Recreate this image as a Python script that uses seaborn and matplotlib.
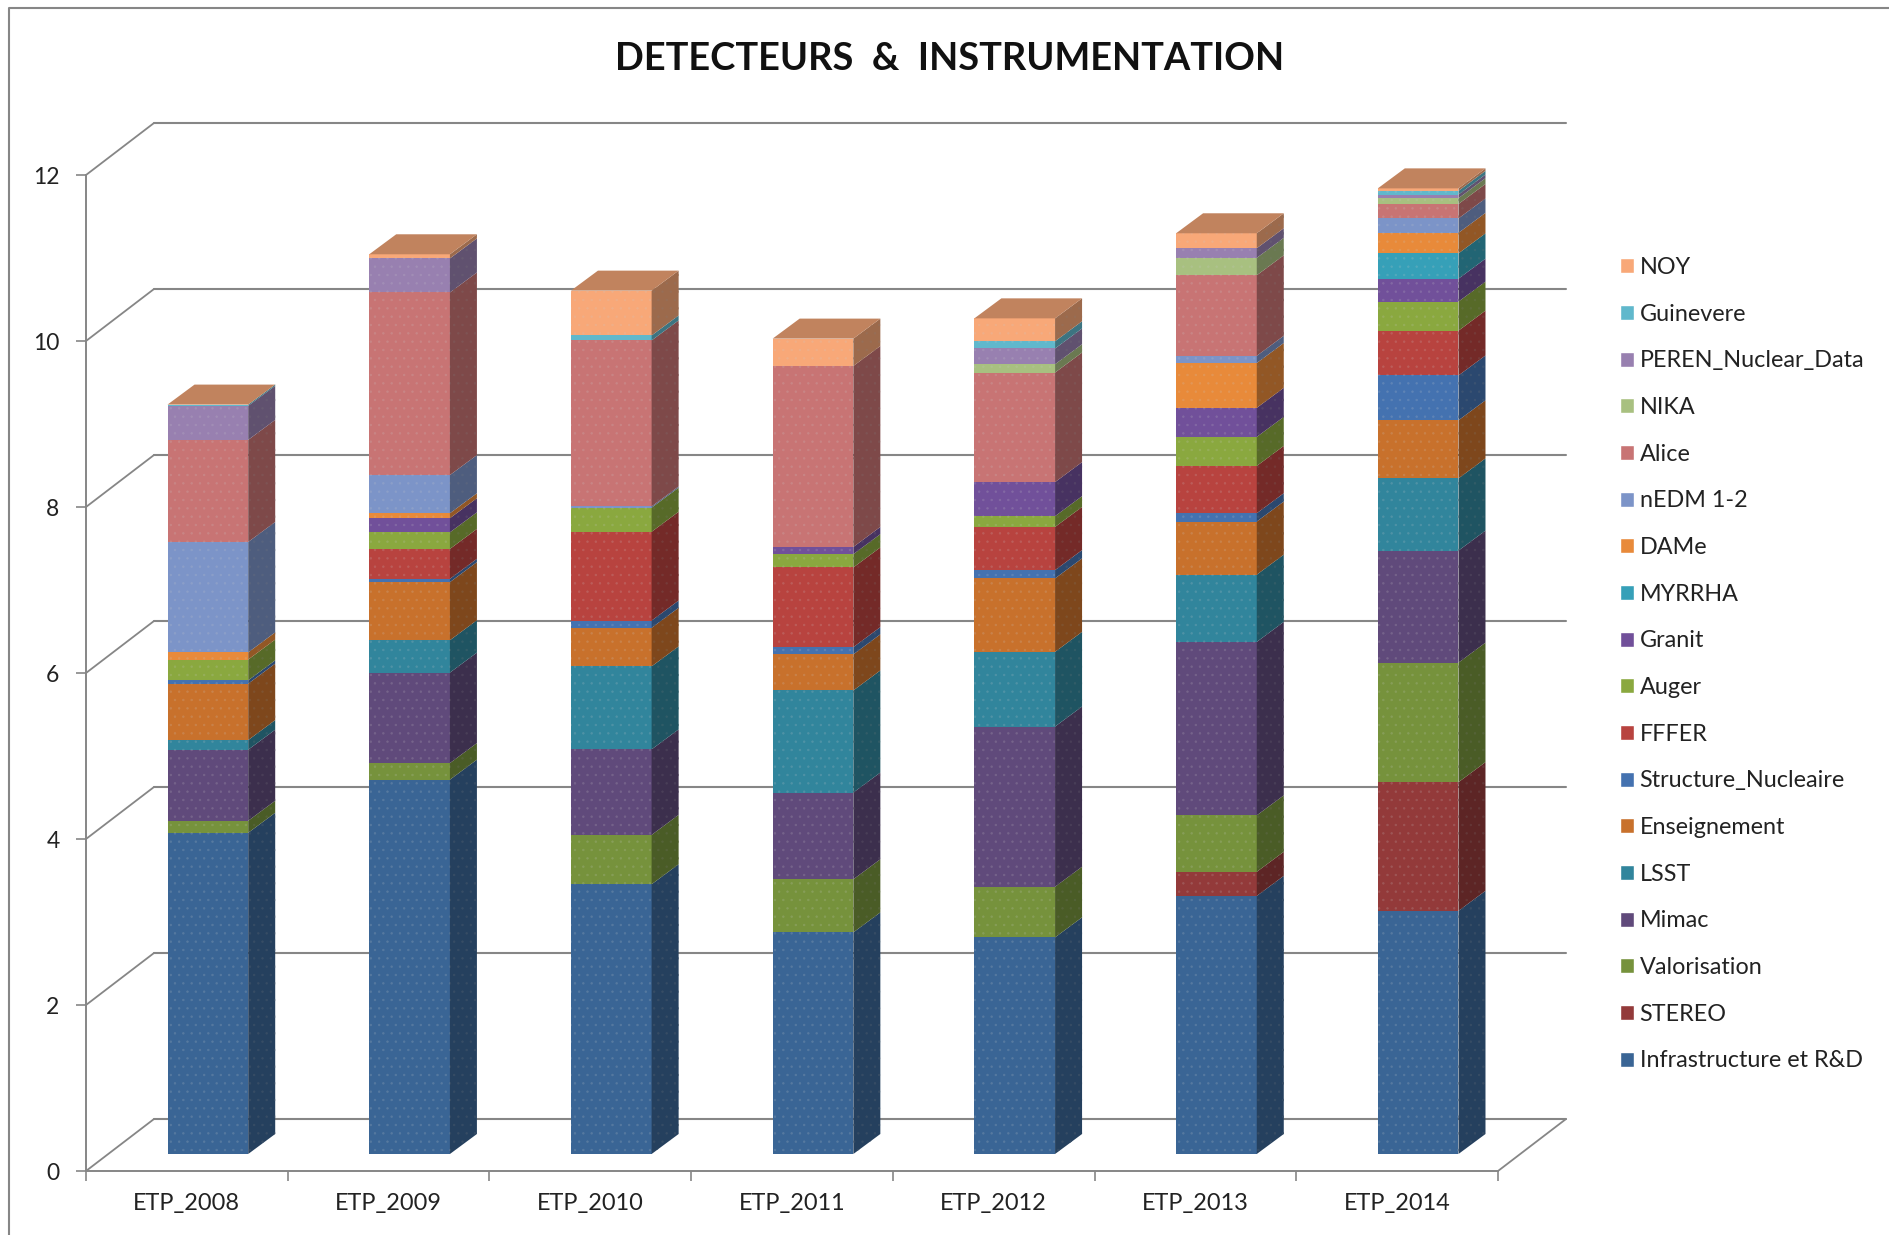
import numpy as np
import matplotlib
matplotlib.use("Agg")
import matplotlib.pyplot as plt
from matplotlib.colors import to_rgb
from matplotlib.lines import Line2D
from matplotlib.patches import Patch, Polygon
import seaborn as sns

# Data
years = ["ETP_2008", "ETP_2009", "ETP_2010", "ETP_2011", "ETP_2012", "ETP_2013", "ETP_2014"]
infrastructure = [3.87, 4.51, 3.25, 2.67, 2.61, 3.11, 2.93]
stereo = [0, 0, 0, 0, 0, 0.29, 1.55]
valorisation = [0.145, 0.20, 0.595, 0.64, 0.61, 0.68, 1.44]
mimac = [0.856, 1.09, 1.03, 1.045, 1.93, 2.09, 1.35]
lsst = [0.116, 0.39, 1.00, 1.23, 0.90, 0.81, 0.87]
enseignement = [0.68, 0.70, 0.465, 0.435, 0.885, 0.64, 0.70]
structure = [0.04, 0.04, 0.087, 0.087, 0.10, 0.10, 0.54]
fffer = [0, 0.36, 1.07, 0.96, 0.52, 0.57, 0.54]
auger = [0.25, 0.20, 0.29, 0.16, 0.13, 0.35, 0.35]
granit = [0, 0.17, 0, 0.087, 0.41, 0.35, 0.276]
myrrha = [0, 0, 0, 0, 0, 0, 0.305]
dame = [0.087, 0.06, 0, 0, 0, 0.54, 0.247]
nedm = [1.33, 0.46, 0.015, 0, 0, 0.087, 0.174]
alice = [1.23, 2.20, 2.00, 2.18, 1.32, 0.97, 0.174]
nika = [0, 0, 0, 0, 0.10, 0.21, 0.07]
peren = [0.41, 0.41, 0, 0, 0.19, 0.116, 0.044]
guinevere = [0.015, 0, 0.06, 0, 0.087, 0, 0.044]
noy = [0, 0.05, 0.54, 0.33, 0.276, 0.18, 0.03]

series = [
    ("Infrastructure et R&D", infrastructure, "#3a6595"),
    ("STEREO", stereo, "#933a3a"),
    ("Valorisation", valorisation, "#76923c"),
    ("Mimac", mimac, "#604a7b"),
    ("LSST", lsst, "#31859c"),
    ("Enseignement", enseignement, "#c8712c"),
    ("Structure_Nucleaire", structure, "#4472b0"),
    ("FFFER", fffer, "#b8433f"),
    ("Auger", auger, "#8aa83f"),
    ("Granit", granit, "#71509a"),
    ("MYRRHA", myrrha, "#36a0b8"),
    ("DAMe", dame, "#e88a3a"),
    ("nEDM 1-2", nedm, "#7c94c8"),
    ("Alice", alice, "#c87474"),
    ("NIKA", nika, "#a8c080"),
    ("PEREN_Nuclear_Data", peren, "#9880b0"),
    ("Guinevere", guinevere, "#60b8cc"),
    ("NOY", noy, "#f8a878"),
]

sns.set_theme(style="white")
plt.rcParams["font.family"] = ["Lato", "DejaVu Sans"]
plt.rcParams["hatch.linewidth"] = 0.5

W, H = 1890, 1235
fig = plt.figure(figsize=(W / 100, H / 100), dpi=100)
GRAY = "#868686"
TEXT = "#222222"


def px_axes(left, top, width, height):
    return fig.add_axes([left / W, 1 - (top + height) / H, width / W, height / H])


def shade(color, f):
    return tuple(c * f for c in to_rgb(color))


def dots(color):
    return tuple(min(1, c * 0.8 + 0.16) for c in to_rgb(color))


# Frame axes: the front plane with ticks, and the walls behind it
frame = px_axes(86, 175, 1412, 996)
frame.set_xlim(0, 7)
frame.set_ylim(0, 12)
wall_dx, wall_dy = 68 / 201.7, 52 / 83

for v in range(0, 14, 2):
    frame.plot([0, wall_dx], [v, v + wall_dy], color=GRAY, lw=1.3, clip_on=False)
    frame.plot([wall_dx, 7 + wall_dx], [v + wall_dy, v + wall_dy], color=GRAY, lw=1.5, clip_on=False)
frame.plot([7, 7 + wall_dx], [0, wall_dy], color=GRAY, lw=1.3, clip_on=False)

frame.set_yticks(range(0, 14, 2))
frame.set_xticks(range(8))
frame.set_xticklabels([])
frame.set_xticks(np.arange(7) + 0.5, labels=years, minor=True)
frame.tick_params(axis="y", length=7, width=1.2, color=GRAY, pad=12, labelsize=16.5, labelcolor=TEXT, left=True)
frame.tick_params(axis="x", which="major", length=7, width=1.2, color=GRAY, bottom=True)
frame.tick_params(axis="x", which="minor", length=0, pad=16, labelsize=16.9, labelcolor=TEXT)
sns.despine(ax=frame)
for side in ["left", "bottom"]:
    frame.spines[side].set_color(GRAY)
    frame.spines[side].set_linewidth(1.4)

# Bars axes: same scale, moved into the chart floor
ax = px_axes(86 + 21, 175 - 17, 1412, 996)
ax.patch.set_visible(False)
bar_w = 0.4
depth_x, depth_y = 27 / 201.7, 20 / 83

bottom = np.zeros(len(years))
handles = []
for name, vals, color in series:
    vals = np.array(vals, dtype=float)
    sns.barplot(x=years, y=vals, bottom=bottom, color=color, saturation=1, width=bar_w, ax=ax,
                linewidth=0, edgecolor=dots(color), hatch="..")
    # side face of each segment
    for i, (b, v) in enumerate(zip(bottom, vals)):
        if v <= 0:
            continue
        xr = i + bar_w / 2
        ax.add_patch(Polygon([(xr, b), (xr + depth_x, b + depth_y), (xr + depth_x, b + v + depth_y), (xr, b + v)],
                             facecolor=shade(color, 0.63), edgecolor=shade(dots(color), 0.63),
                             linewidth=0, hatch="..", clip_on=False))
    bottom = bottom + vals
    handles.append(Patch(facecolor=color, label=name))

# top face takes the last series' colour, darkened
top_color = shade(series[-1][2], 0.78)
for i, t in enumerate(bottom):
    xl, xr = i - bar_w / 2, i + bar_w / 2
    ax.add_patch(Polygon([(xl, t), (xr, t), (xr + depth_x, t + depth_y), (xl + depth_x, t + depth_y)],
                         facecolor=top_color, linewidth=0, clip_on=False))

ax.set_xlim(-0.5, 6.5)
ax.set_ylim(0, 12)
ax.axis("off")

fig.text(950 / W, 1 - 59 / H, "DETECTEURS  &  INSTRUMENTATION", ha="center", va="center",
         fontsize=27.4, fontweight="bold", color="#111111")

fig.legend(handles=handles[::-1], loc="upper left", bbox_to_anchor=(1620 / W, 1 - 257 / H),
           frameon=False, fontsize=16.8, handlelength=0.62, handleheight=0.62, handletextpad=0.22,
           labelspacing=1.10, labelcolor=TEXT, borderpad=0, borderaxespad=0)

# Chart area border
fig.add_artist(Line2D([9 / W, 9 / W, 1], [0, 1 - 8 / H, 1 - 8 / H], color=GRAY, lw=1.5))

plt.savefig("out.png", dpi=100)
